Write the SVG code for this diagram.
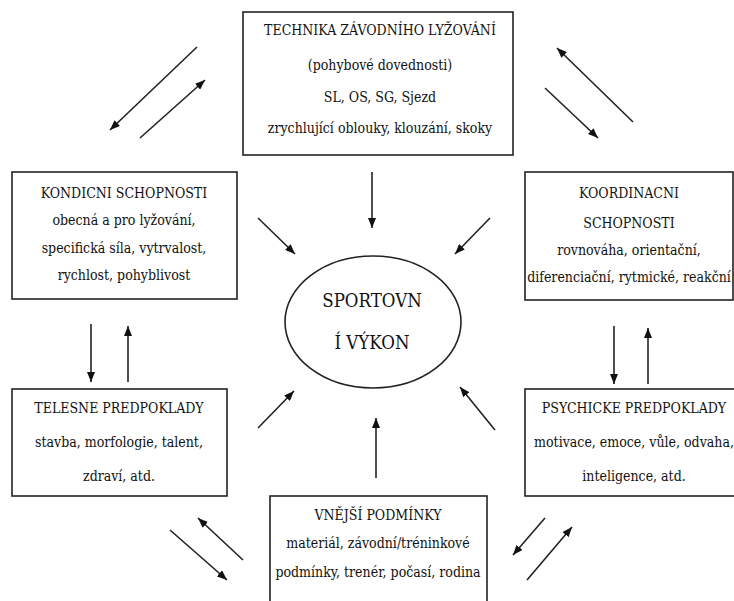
<svg xmlns="http://www.w3.org/2000/svg" width="734" height="601" viewBox="0 0 734 601">
<style>
.box{fill:#fff;stroke:#222;stroke-width:1.6}
.t{font-family:'DejaVu Serif Condensed','DejaVu Serif','Liberation Serif',serif;font-stretch:condensed;font-size:14px;fill:#111;text-anchor:middle}
.big{font-size:18.5px}
.c line{stroke:#222;stroke-width:1.6}
</style>
<defs>
<marker id="ah" viewBox="0 0 10 8" refX="10" refY="4" markerWidth="10" markerHeight="8" markerUnits="userSpaceOnUse" orient="auto">
<path d="M0,0 L10,4 L0,8 Z" fill="#111"/>
</marker>
</defs>
<rect width="734" height="601" fill="#fff"/>
<g id="technika">
<rect class="box" x="243" y="12" width="270" height="143"/>
<text class="t" x="380" y="35">TECHNIKA ZÁVODNÍHO LYŽOVÁNÍ</text>
<text class="t" x="380" y="70">(pohybové dovednosti)</text>
<text class="t" x="380" y="102">SL, OS, SG, Sjezd</text>
<text class="t" x="380" y="133">zrychlující oblouky, klouzání, skoky</text>
</g>
<g id="kondicni">
<rect class="box" x="12" y="172" width="225" height="127"/>
<text class="t" x="124" y="198">KONDICNI SCHOPNOSTI</text>
<text class="t" x="124" y="225">obecná a pro lyžování,</text>
<text class="t" x="124" y="253">specifická síla, vytrvalost,</text>
<text class="t" x="124" y="280">rychlost, pohyblivost</text>
</g>
<g id="koordinacni">
<rect class="box" x="525" y="172" width="208" height="128"/>
<text class="t" x="629" y="198">KOORDINACNI</text>
<text class="t" x="629" y="228">SCHOPNOSTI</text>
<text class="t" x="629" y="255">rovnováha, orientační,</text>
<text class="t" x="629" y="282">diferenciační, rytmické, reakční</text>
</g>
<g id="telesne">
<rect class="box" x="12" y="389" width="215" height="107"/>
<text class="t" x="119" y="413">TELESNE PREDPOKLADY</text>
<text class="t" x="119" y="447">stavba, morfologie, talent,</text>
<text class="t" x="119" y="481">zdraví, atd.</text>
</g>
<g id="psychicke">
<rect class="box" x="525" y="389" width="215" height="107"/>
<text class="t" x="634" y="413">PSYCHICKE PREDPOKLADY</text>
<text class="t" x="634" y="447">motivace, emoce, vůle, odvaha,</text>
<text class="t" x="634" y="481">inteligence, atd.</text>
</g>
<g id="vnejsi">
<rect class="box" x="270" y="496" width="217" height="120"/>
<text class="t" x="378" y="520">VNĚJŠÍ PODMÍNKY</text>
<text class="t" x="378" y="548">materiál, závodní/tréninkové</text>
<text class="t" x="378" y="577">podmínky, trenér, počasí, rodina</text>
</g>
<g id="vykon">
<ellipse class="box" cx="373" cy="322" rx="88" ry="66"/>
<text class="t big" x="372" y="307">SPORTOVN</text>
<text class="t big" x="372" y="349">Í VÝKON</text>
</g>
<g class="c" id="connectors">
<line x1="372" y1="172" x2="372" y2="228" marker-end="url(#ah)"/>
<line x1="376" y1="478" x2="376" y2="418" marker-end="url(#ah)"/>
<line x1="258" y1="218" x2="295" y2="254" marker-end="url(#ah)"/>
<line x1="490" y1="218" x2="455" y2="254" marker-end="url(#ah)"/>
<line x1="258" y1="428" x2="294" y2="391" marker-end="url(#ah)"/>
<line x1="495" y1="430" x2="460" y2="387" marker-end="url(#ah)"/>
<line x1="91" y1="324" x2="91" y2="382" marker-end="url(#ah)"/>
<line x1="128" y1="382" x2="128" y2="326" marker-end="url(#ah)"/>
<line x1="614" y1="326" x2="614" y2="384" marker-end="url(#ah)"/>
<line x1="648" y1="384" x2="648" y2="328" marker-end="url(#ah)"/>
<line x1="197" y1="47" x2="110" y2="130" marker-end="url(#ah)"/>
<line x1="140" y1="138" x2="205" y2="80" marker-end="url(#ah)"/>
<line x1="633" y1="122" x2="557" y2="48" marker-end="url(#ah)"/>
<line x1="545" y1="88" x2="598" y2="138" marker-end="url(#ah)"/>
<line x1="170" y1="530" x2="227" y2="580" marker-end="url(#ah)"/>
<line x1="243" y1="560" x2="198" y2="518" marker-end="url(#ah)"/>
<line x1="545" y1="518" x2="513" y2="555" marker-end="url(#ah)"/>
<line x1="527" y1="580" x2="572" y2="527" marker-end="url(#ah)"/>
</g>
</svg>
